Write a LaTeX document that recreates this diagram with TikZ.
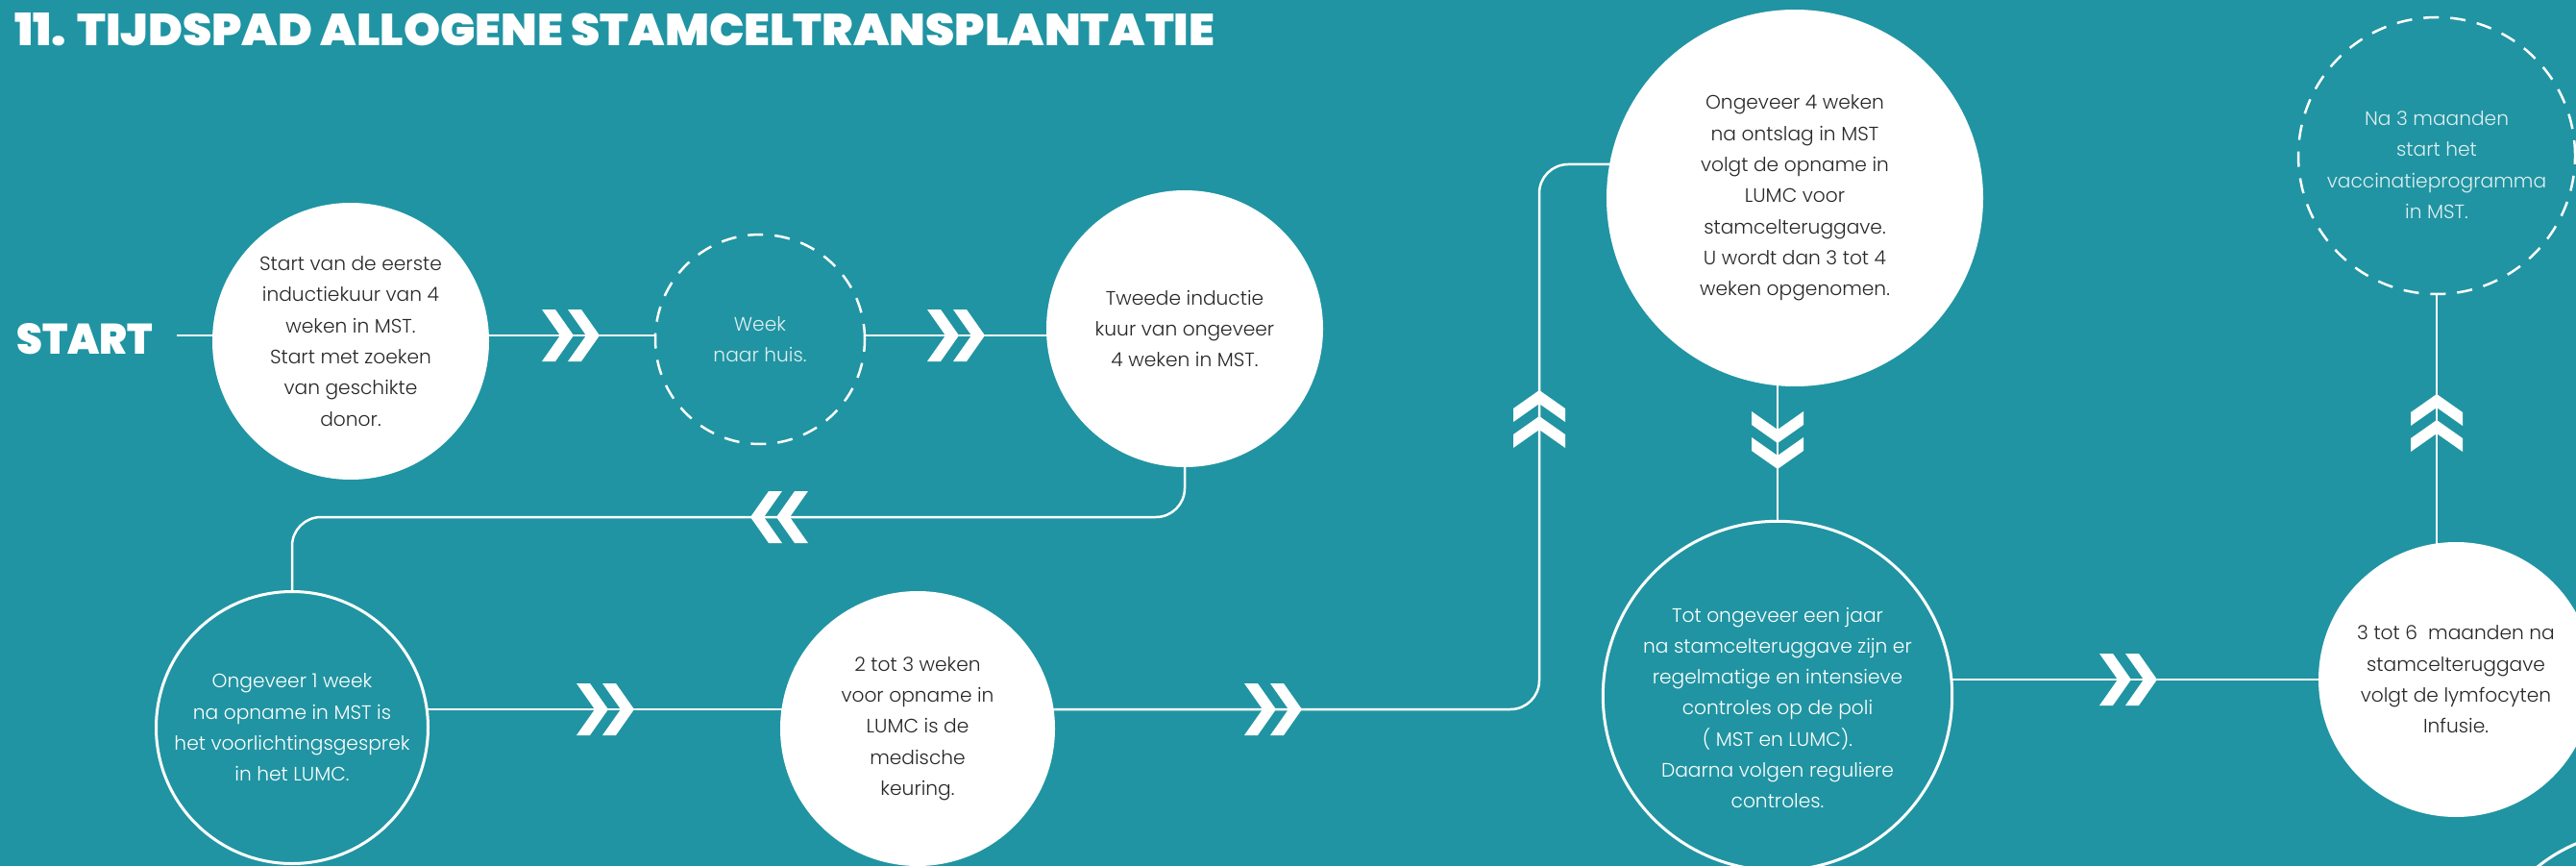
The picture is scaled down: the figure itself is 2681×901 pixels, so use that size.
\documentclass[tikz,border=0pt]{standalone}
\usepackage{graphicx}
\usepackage{fontspec}
\newfontfamily\bodyfont{Poppins Light}
\newfontfamily\headfont{Poppins Black}
\usetikzlibrary{backgrounds}
\definecolor{teal0}{RGB}{32,148,162}
\definecolor{ink}{RGB}{40,40,40}
\colorlet{pale}{white!85!teal0}
\newcommand\bodytext{\bodyfont\fontsize{20.2}{32.3}\selectfont}
\begin{document}
\begin{tikzpicture}[x=1pt,y=-1pt,
  full/.style={circle, fill=white, text=ink, inner sep=0pt, minimum size=#1, align=center, font=\bodytext},
  ring/.style={circle, draw=white, line width=3pt, fill=teal0, text=white, inner sep=0pt, minimum size=#1, align=center, font=\bodytext},
  dashring/.style={circle, draw=white, line width=2.5pt, dash pattern=on 16pt off 12pt, fill=teal0, text=pale, inner sep=0pt, minimum size=#1, align=center, font=\bodytext},
  conn/.style={draw=white, line width=2.5pt},
  dchev/.pic={
    \fill[white] (30,0) -- (11,-27) -- (-3,-27) -- (16,0) -- (-3,27) -- (11,27) -- cycle;
    \fill[white] (3,0) -- (-16,-27) -- (-30,-27) -- (-11,0) -- (-30,27) -- (-16,27) -- cycle;
  }]
\useasboundingbox (0,0) rectangle (2681,901);
\clip (0,0) rectangle (2681,901);
\begin{scope}[on background layer]
  \fill[teal0] (0,0) rectangle (2681,901);
\end{scope}

% title and start
\node[anchor=north west, inner sep=0pt, text=white] (title) at (15,13)
  {\resizebox{1249pt}{34pt}{\headfont 11. TIJDSPAD ALLOGENE STAMCELTRANSPLANTATIE}};
\node[anchor=west, inner sep=0pt, text=white] (start) at (17,353)
  {\resizebox{142pt}{32pt}{\headfont START}};

% circles
\node[full=288] (c1) at (365,355) {Start van de eerste\\inductiekuur van 4\\weken in MST.\\Start met zoeken\\van geschikte\\donor.};
\node[dashring=218] (c2) at (791,353) {Week\\naar huis.};
\node[full=288] (c3) at (1233,342) {Tweede inductie\\kuur van ongeveer\\4 weken in MST.};
\node[ring=283] (c4) at (304,757) {Ongeveer 1 week\\na opname in MST is\\het voorlichtingsgesprek\\in het LUMC.};
\node[full=286] (c5) at (955,758) {2 tot 3 weken\\voor opname in\\LUMC is de\\medische\\keuring.};
\node[full=392] (c6) at (1868,206) {Ongeveer 4 weken\\na ontslag in MST\\volgt de opname in\\LUMC voor\\stamcelteruggave.\\U wordt dan 3 tot 4\\weken opgenomen.};
\node[ring=333] (c7) at (1850,724) {\rule{0pt}{40pt}Tot ongeveer een jaar\\na stamcelteruggave zijn er\\regelmatige en intensieve\\controles op de poli\\( MST en LUMC).\\Daarna volgen reguliere\\controles.};
\node[full=286] (c8) at (2556,707) {3 tot 6\ \ maanden na\\stamcelteruggave\\volgt de lymfocyten\\Infusie.};
\node[dashring=288] (c9) at (2536,162) {\rule{0pt}{34pt}Na 3 maanden\\start het\\vaccinatieprogramma\\in MST.};
\node[ring=330] (c10) at (2745,1030) {};

% connectors
\coordinate (r1) at (0,349);
\coordinate (r2) at (0,538);
\coordinate (r3) at (0,738);
\coordinate (s0) at ([xshift=25pt]start.east);
\coordinate (bendlo) at (1602,738);
\coordinate (bendhi) at (1602,171);
\begin{scope}[on background layer]
  \draw[conn] (s0 |- r1) -- (c1.center |- r1);
  \draw[conn] (c1.center |- r1) -- (c2.center |- r1) -- (c3.center |- r1);
  \draw[conn, rounded corners=30pt] (c3.center) -- (c3.center |- r2) -- (c4.center |- r2) -- (c4.center);
  \draw[conn] (c4.center |- r3) -- (c5.center |- r3);
  \draw[conn, rounded corners=30pt] (c5.center |- r3) -- (bendlo) -- (bendhi) -- (c6.center |- bendhi);
  \draw[conn] (c7.center |- c6.center) -- (c7.center);
  \draw[conn] (c7.center |- c8.center) -- (c8.center);
  \draw[conn] (c9.center) -- (c9.center |- c8.center);
\end{scope}

% chevrons
\pic at (594,349) {dchev};
\pic at (995,349) {dchev};
\pic[rotate=180] at (811,538) {dchev};
\pic at (630,738) {dchev};
\pic at (1325,738) {dchev};
\pic[rotate=90] at (1602,436) {dchev};
\pic[rotate=-90] at (1850,458) {dchev};
\pic at (2215,707) {dchev};
\pic[rotate=90] at (2536,440) {dchev};
\end{tikzpicture}
\end{document}
